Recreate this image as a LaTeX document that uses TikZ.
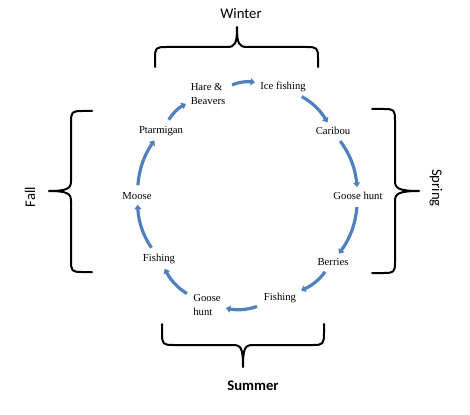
\documentclass[tikz,border=0pt]{standalone}
\usepackage{fontspec}
\setmainfont{Liberation Serif}
\newfontfamily\calibri{Carlito}
\usetikzlibrary{arrows.meta}
\definecolor{cycblue}{RGB}{79,129,189}

\begin{document}
\begin{tikzpicture}[
    x=1pt, y=-1pt,
    food/.style   = {font=\fontsize{10.7}{14}\selectfont, align=left, inner sep=2pt},
    cyc/.style    = {-{Triangle[length=4.5pt,width=7pt]}, line width=3.2pt, draw=cycblue,
                     bend left=15, shorten <=5pt, shorten >=3pt},
    brc/.style    = {line width=2pt, draw=black, line join=round, line cap=round},
    season/.style = {font=\calibri\fontsize{14.7}{17}\selectfont},
]
\useasboundingbox (0,0) rectangle (470,414);

%============================ FOOD CYCLE ============================
\node[food] (hb)  at (208,94)  {Hare \&\\Beavers};
\node[food] (ice) at (283,87)  {Ice fishing};
\node[food] (car) at (333,131) {Caribou};
\node[food] (gh1) at (358,196) {Goose hunt};
\node[food] (ber) at (333,262) {Berries};
\node[food] (fi1) at (280,298) {Fishing};
\node[food] (gh2) at (207,305) {Goose\\hunt};
\node[food] (fi2) at (159,259) {Fishing};
\node[food] (moo) at (137,196) {Moose};
\node[food] (pta) at (161,131) {Ptarmigan};

\foreach \a/\b in {hb/ice, ice/car, car/gh1, gh1/ber, ber/fi1,
                   fi1/gh2, gh2/fi2, fi2/moo, moo/pta, pta/hb}
  \draw[cyc] (\a) to (\b);

%============================ SEASONS ===============================
% --- winter, on top
\draw[brc] (155,67) -- (155,58) .. controls (155,48) and (156,47) .. (166,47)
           -- (227,47) .. controls (235,47) and (237,44) .. (237,27)
           .. controls (237,44) and (239,47) .. (247,47)
           -- (307,47) .. controls (317,47) and (318,48) .. (318,58) -- (318,67);
\node[season] (win) at (241,13) {Winter};

% --- summer, below
\draw[brc] (162,324) -- (162,333) .. controls (162,344) and (163,345) .. (173,345)
           -- (233,345) .. controls (241,345) and (243,348) .. (243,367)
           .. controls (243,348) and (245,345) .. (253,345)
           -- (313,345) .. controls (323,345) and (324,344) .. (324,333) -- (324,324);
\node[season, font=\calibri\bfseries\fontsize{14.7}{17}\selectfont] (sum) at (253,386) {Summer};

% --- fall, left
\draw[brc] (92,111) -- (82,111) .. controls (72,111) and (71,112) .. (71,122)
           -- (71,181) .. controls (71,188) and (68,191) .. (49,191)
           .. controls (68,191) and (71,194) .. (71,201)
           -- (71,261) .. controls (71,271) and (72,272) .. (82,272) -- (92,272);
\node[season, rotate=90] (fal) at (30,197) {Fall};

% --- spring, right
\draw[brc] (372,109) -- (384,109) .. controls (394,109) and (395,110) .. (395,120)
           -- (395,181) .. controls (395,188) and (398,191) .. (419,191)
           .. controls (398,191) and (395,194) .. (395,201)
           -- (395,262) .. controls (395,272) and (394,273) .. (384,273) -- (372,273);
\node[season, rotate=-90] (spr) at (436,188) {Spring};

\end{tikzpicture}
\end{document}
